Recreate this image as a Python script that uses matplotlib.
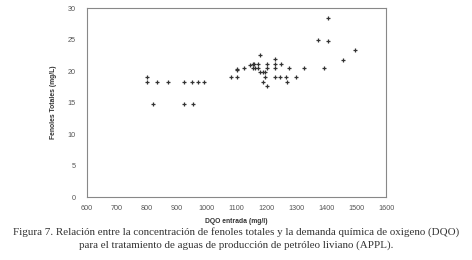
import matplotlib
matplotlib.use("Agg")
import matplotlib.pyplot as plt

dqo = [800, 800, 835, 870, 923, 953, 972, 990,
       822, 926, 955,
       1083, 1101, 1103, 1103, 1124,
       1145, 1154, 1160, 1171,
       1154, 1162, 1171,
       1180, 1180, 1188, 1195, 1188, 1196,
       1203, 1203, 1203,
       1229, 1229, 1250, 1229, 1229, 1247, 1264,
       1274, 1268, 1298, 1324, 1393,
       1371, 1407, 1407, 1456, 1497]
fenoles = [19.1, 18.3, 18.3, 18.3, 18.3, 18.3, 18.3, 18.3,
           14.7, 14.7, 14.7,
           19.1, 19.1, 20.4, 20.1, 20.5,
           21.0, 21.2, 21.2, 21.2,
           20.5, 20.5, 20.5,
           22.6, 19.8, 19.8, 19.8, 18.3, 19.1,
           21.2, 20.5, 17.6,
           21.9, 21.2, 21.2, 20.5, 19.1, 19.1, 19.1,
           20.5, 18.3, 19.1, 20.5, 20.5,
           24.9, 24.7, 28.5, 21.8, 23.3]

xticks = list(range(600, 1700, 100))
yticks = list(range(0, 35, 5))

fig = plt.figure(figsize=(4.72, 2.6), dpi=100)
ax = fig.add_axes([0.184, 0.242, 0.634, 0.727])
ax.plot(dqo, fenoles, linestyle='none', marker='+', markersize=2.6,
        markeredgewidth=0.9, color='#333333')
ax.set_xlim(600, 1600)
ax.set_ylim(0, 30)
ax.set_xticks(xticks)
ax.set_yticks(yticks)
for lab in ax.get_xticklabels() + ax.get_yticklabels():
    lab.set_family('Liberation Sans')
ax.tick_params(axis='both', length=0, labelsize=5.2, labelcolor='#555555')
ax.tick_params(axis='y', pad=8)
ax.tick_params(axis='x', pad=6)
for s in ax.spines.values():
    s.set_color('#888888')
    s.set_linewidth(0.8)
ax.set_xlabel('DQO entrada (mg/l)', fontsize=4.9, fontweight='bold', color='#333333',
              labelpad=4, family='Liberation Sans')
ax.set_ylabel('Fenoles Totales (mg/L)', fontsize=4.9, fontweight='bold', color='#333333',
              labelpad=8, family='Liberation Sans')

fig.text(0.5, 0.108, 'Figura 7. Relación entre la concentración de fenoles totales y la demanda química de oxigeno (DQO)',
         ha='center', va='center', fontsize=7.9, family='Liberation Serif', color='#333333')
fig.text(0.5, 0.058, 'para el tratamiento de aguas de producción de petróleo liviano (APPL).',
         ha='center', va='center', fontsize=7.9, family='Liberation Serif', color='#333333')

fig.savefig('out.png', dpi=100)
